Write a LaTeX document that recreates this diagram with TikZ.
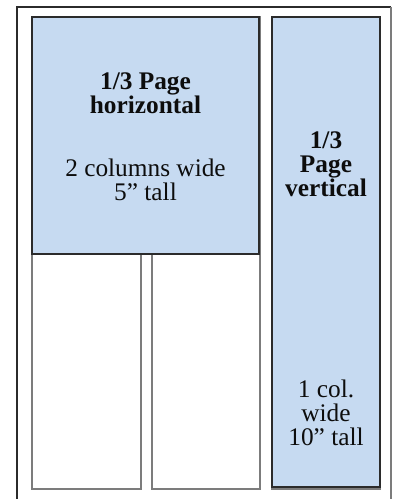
\documentclass[tikz,border=0pt]{standalone}
\usepackage{fontspec}
\setmainfont{Liberation Serif}
\definecolor{adblue}{HTML}{C6DAF1}
\definecolor{frameline}{HTML}{2B2B2B}
\definecolor{colline}{HTML}{7C7C7C}
\tikzset{
  adbox/.style={draw=frameline, fill=adblue, line width=1.4pt},
  colbox/.style={draw=colline, line width=0.8pt},
  adtext/.style={align=center, inner sep=0pt, text=black!95,
    font=\fontsize{19}{18}\selectfont}
}
\begin{document}
\begin{tikzpicture}[x=0.75pt,y=-0.75pt]
  \useasboundingbox (0,0) rectangle (393,499);
  % page frame
  \draw[frameline, line width=1.5pt] (17,499) -- (17,7) -- (391,7);
  \draw[colline, line width=0.8pt] (391,7) -- (391,499);
  % three columns
  \draw[colbox] (32,17) rectangle (141,489);
  \draw[colbox] (152,17) rectangle (260,489);
  \draw[colbox] (272,17) rectangle (380,489);
  % the two ads
  \draw[adbox] (32,17) rectangle (259,254);
  \draw[adbox] (272,17) rectangle (380,487);
  \node[adtext] (horiztext) at (145.5,137) {\textbf{1/3 Page}\\\textbf{horizontal}\\[29pt]2 columns wide\\5” tall};
  \node[adtext] (verttitle) at (326,164) {\textbf{1/3}\\\textbf{Page}\\\textbf{vertical}};
  \node[adtext] (vertsize) at (326,413) {1 col.\\wide\\10” tall};
\end{tikzpicture}
\end{document}
